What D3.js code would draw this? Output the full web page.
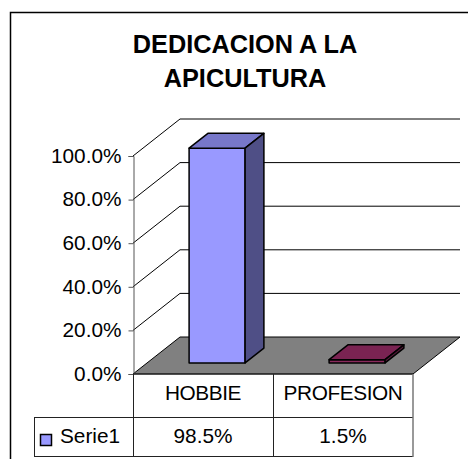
<!DOCTYPE html>
<html>
<head>
<meta charset="utf-8">
<script src="https://cdn.jsdelivr.net/npm/d3@7"></script>
<style>
body { margin: 0; background: #fff; }
text { font-family: "Liberation Sans", Arial, sans-serif; }
</style>
</head>
<body>
<script>
var categories = ["HOBBIE", "PROFESION"]
var values = [98.5, 1.5]
var value_labels = ["98.5%", "1.5%"]
var ticks = [0, 20, 40, 60, 80, 100]
var series_name = "Serie1"
var title_lines = ["DEDICACION A LA", "APICULTURA"]

const width = 469
const height = 459
// depth of the 3d floor
const dx = 47
const dy = -37

var graph = d3.select("body").append("svg").attr("width", width).attr("height", height)

// outer frame
graph.append("path").attr("d", "M10.5,470 L10.5,12.5 L468,12.5")
    .attr("fill", "none").attr("stroke", "black").attr("stroke-width", 1.5)

graph.selectAll(".title").data(title_lines).enter().append("text")
    .attr("x", 245).attr("y", (d, i) => 53 + 34 * i)
    .attr("text-anchor", "middle")
    .attr("font-size", "25.3px").attr("font-weight", "bold")
    .text((d) => d)

var yScale = d3.scaleLinear().domain([0, 100]).range([374, 156])
var xScale = d3.scaleBand().domain(categories).range([133, 413])

var x0 = xScale.range()[0]
var x1 = xScale.range()[1]

// floor
graph.append("polygon")
    .attr("points", [[x0, yScale(0)], [x0 + dx, yScale(0) + dy], [x1 + dx + 0, yScale(0) + dy], [x1, yScale(0)]].join(" "))
    .attr("fill", "#808080").attr("stroke", "black").attr("stroke-width", 1)

// gridlines on side + back wall
graph.selectAll(".grid").data(ticks.filter((d) => d > 0)).enter().append("polyline")
    .attr("points", (d) => [[x0, yScale(d)], [x0 + dx, yScale(d) + dy], [x1 + dx, yScale(d) + dy]].join(" "))
    .attr("fill", "none").attr("stroke", "black").attr("stroke-width", 1)

// y axis
var y_axis = graph.append("g")
    .attr("transform", "translate(" + (x0 + 0.5) + ",0)")
    .call(d3.axisLeft(yScale).tickValues(ticks).tickSize(5).tickPadding(7).tickFormat((d) => d.toFixed(1) + "%"))
y_axis.select(".domain").attr("stroke", "#555")
y_axis.selectAll("line").attr("stroke", "#555")
y_axis.selectAll("text").attr("font-size", "20.8px").attr("fill", "black")
    .attr("font-family", "Liberation Sans, Arial, sans-serif").attr("dy", "0.3em")

// bars
var fills = [
    { front: "#9999FF", top: "#7777C9", side: "#4F4F86" },
    { front: "#8A2A5C", top: "#7A2352", side: "#5A1A3C" }
]
var f0 = 0.3
var f1 = 0.7
var bw = xScale.bandwidth() / 2.5

var bar = graph.selectAll(".bar").data(values).enter().append("g")

function face(d, i, which) {
    var left = xScale(categories[i]) + (xScale.bandwidth() - bw) / 2 + dx * f0
    var right = left + bw
    var bottom = yScale(0) + dy * f0
    var top = yScale(d) + dy * f0
    var ddx = dx * (f1 - f0)
    var ddy = dy * (f1 - f0)
    if (which == "front") return [[left, top], [right, top], [right, bottom], [left, bottom]].join(" ")
    if (which == "top") return [[left, top], [left + ddx, top + ddy], [right + ddx, top + ddy], [right, top]].join(" ")
    return [[right, top], [right + ddx, top + ddy], [right + ddx, bottom + ddy], [right, bottom]].join(" ")
}

;["front", "top", "side"].forEach(function (w) {
    bar.append("polygon")
        .attr("points", (d, i) => face(d, i, w))
        .attr("fill", (d, i) => fills[i][w])
        .attr("stroke", "black").attr("stroke-width", 1.5).attr("stroke-linejoin", "round")
})

// data table
var t_top = 374
var t_mid = 417
var t_bot = 457
var legend_x = 34

var table = graph.append("g").attr("stroke", "#222").attr("stroke-width", 1)
table.append("line").attr("x1", x0).attr("x2", x1).attr("y1", t_top).attr("y2", t_top)
table.append("line").attr("x1", legend_x).attr("x2", x1).attr("y1", t_mid + 0.5).attr("y2", t_mid + 0.5)
table.append("line").attr("x1", legend_x).attr("x2", x1).attr("y1", t_bot - 0.5).attr("y2", t_bot - 0.5)
table.append("line").attr("x1", legend_x + 0.5).attr("x2", legend_x + 0.5).attr("y1", t_mid).attr("y2", t_bot)
table.selectAll(".vline").data(categories.concat(["end"])).enter().append("line")
    .attr("x1", (d) => d == "end" ? x1 : Math.round(xScale(d)) + 0.5)
    .attr("x2", (d) => d == "end" ? x1 : Math.round(xScale(d)) + 0.5)
    .attr("y1", t_top).attr("y2", t_bot)
    .attr("stroke", (d) => d == "end" ? "#777" : "#222")
    .attr("stroke-width", (d) => d == "end" ? 1.5 : 1)

graph.selectAll(".cat").data(categories).enter().append("text")
    .attr("x", (d) => xScale(d) + xScale.bandwidth() / 2)
    .attr("y", 400)
    .attr("text-anchor", "middle").attr("font-size", "20.8px").attr("letter-spacing", "-0.4px")
    .text((d) => d)

graph.selectAll(".val").data(value_labels).enter().append("text")
    .attr("x", (d, i) => xScale(categories[i]) + xScale.bandwidth() / 2)
    .attr("y", 443)
    .attr("text-anchor", "middle").attr("font-size", "20.8px")
    .text((d) => d)

graph.append("rect").attr("x", 40.5).attr("y", 434.5).attr("width", 11).attr("height", 11)
    .attr("fill", fills[0].front).attr("stroke", "black").attr("stroke-width", 1.5)
graph.append("text").attr("x", 60).attr("y", 443).attr("font-size", "20.8px").text(series_name)
</script>
</body>
</html>
